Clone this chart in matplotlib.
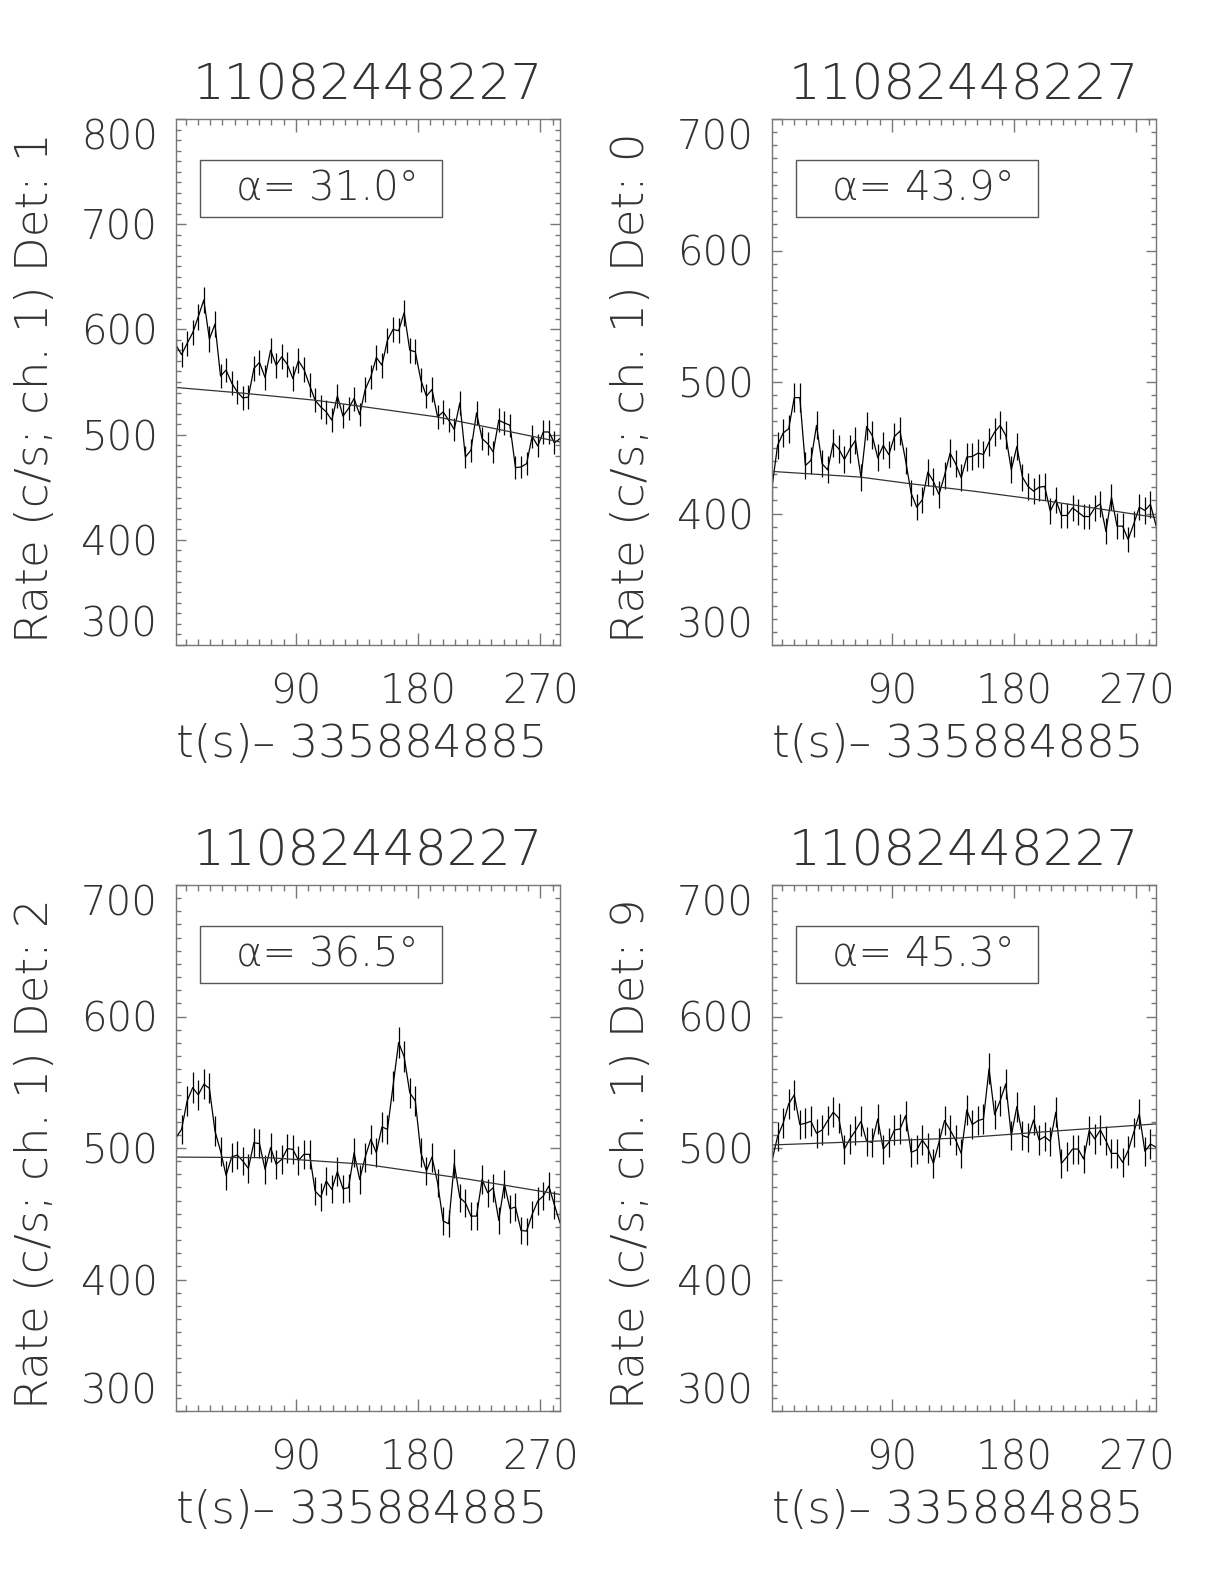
"""
plot.py
Four GBM-style light curves (rate vs time) with background fit curves.
"""
import os
import numpy as np
import matplotlib
matplotlib.use("Agg")
import matplotlib.pyplot as plt
from matplotlib import font_manager as fm
from matplotlib.ft2font import FT2Font
from matplotlib.patches import Rectangle
from matplotlib.ticker import MultipleLocator

# thin, wide-ish font to stand in for the IDL vector font
font_file = None
all_fonts = {os.path.basename(f).lower(): f for f in fm.findSystemFonts()}
for name in ["dejavusans-extralight.ttf", "lato-light.ttf", "notosans-light.ttf",
             "opensans-light.ttf", "roboto-light.ttf"]:
    if name in all_fonts:
        font_file = all_fonts[name]
        break
# size factor so that the digit widths come out about the same
size_k = 1.0 if (font_file and "dejavu" in font_file.lower()) else 1.1


def fprop(size):
    if font_file:
        return fm.FontProperties(fname=font_file, size=size * size_k)
    return fm.FontProperties(family="DejaVu Sans", size=size)


# alpha: plain glyph from the light font if it has one, else mathtext
has_alpha = False
if font_file:
    has_alpha = FT2Font(font_file).get_char_index(ord("\u03b1")) != 0
ALPHA = "\u03b1" if has_alpha else r"$\alpha$"
plt.rcParams["mathtext.fontset"] = "dejavusans"

TITLE = "11082448227"
XLABEL = "t(s)\u2013 335884885"
T0 = 1.8
BIN_S = 4.096

det_labels = ["Det: 1", "Det: 0", "Det: 2", "Det: 9"]
alphas = ["31.0", "43.9", "36.5", "45.3"]
y_ranges = [(300, 800), (300, 700), (300, 700), (300, 700)]

rate_det1 = [
    585, 576, 586.7, 596.8, 612, 628, 590.8, 605, 555.6, 561.3,
    549.2, 540.6, 534.9, 535.6, 562.9, 568.6, 554.3, 580.3, 566, 574,
    566.7, 553.3, 570.2, 561.9, 547, 532.7, 526.3, 521.6, 513.7, 536.8,
    517.5, 524.8, 534.3, 519, 542.9, 554.9, 573.3, 566, 589.8, 600,
    598.7, 615.9, 580.3, 578.7, 551.7, 536.5, 542.9, 516.8, 521.6, 513.7,
    504.8, 530.2, 478.7, 485.1, 520.6, 496.2, 491.4, 483.5, 513.7, 511.1,
    508.9, 468.6, 469.2, 472.4, 498.4, 489.2, 502.5, 502.5, 492.1, 496.2,
]
rate_det0 = [
    420, 451.8, 461.2, 464.5, 488.1, 488.1, 436.5, 440.4, 467, 437.8,
    433.2, 453.6, 449.2, 441.1, 449.2, 455.6, 427.2, 466.2, 459.4, 442.4,
    451.8, 444.7, 458.6, 462.7, 440.4, 415.5, 404.8, 410.4, 431.5, 424.4,
    414.5, 428.9, 445.9, 437.8, 427.2, 442.9, 443.4, 445.9, 444.9, 454.3,
    461.9, 467, 459.4, 433.2, 451, 427.7, 420.6, 417, 420, 420.6,
    401.8, 410.4, 398.5, 398.5, 404.3, 401, 397.7, 397.7, 404.3, 407.4,
    386.5, 412.4, 390.4, 390.4, 380.2, 392.1, 404.8, 402.3, 406.9, 391,
]
rate_det2 = [
    507.9, 514.2, 535.8, 545.9, 540.4, 548.5, 545.4, 512.9, 497.7, 479.2,
    493.1, 494.7, 490.1, 484.5, 504.1, 503.3, 483.8, 500.3, 487.6, 491.4,
    499.5, 499, 490.6, 495.2, 495.2, 467.3, 462.7, 474.9, 468.5, 482,
    469, 469.8, 496.4, 476.1, 493.1, 506.6, 496.4, 516, 514.2, 547.2,
    580.2, 569.3, 542.1, 535.8, 496.4, 482.5, 493.1, 473.6, 444.4, 442.4,
    488.1, 462.2, 458.4, 448.2, 448.2, 476.1, 466, 469.8, 444.9, 472.8,
    453.8, 455.1, 437.3, 436.8, 449.5, 459.6, 463.5, 471.1, 456.6, 443.1,
]
rate_det9 = [
    490.4, 508.6, 518.8, 533.5, 540.4, 517.8, 518.8, 520.3, 511.2, 513.7,
    520.8, 527.2, 522.8, 499.2, 506.9, 513.2, 520.3, 505.1, 504.3, 522.1,
    499.2, 504.3, 513.7, 514.5, 524.6, 496.7, 498.5, 506.1, 500, 488.3,
    504.3, 520.8, 513.7, 506.1, 495.9, 528.9, 517.8, 520.8, 522.1, 560.2,
    525.4, 536, 548.7, 509.4, 531.5, 509.4, 508.1, 521.3, 506.1, 508.6,
    505.1, 527.2, 488.3, 493.4, 499.2, 499.2, 491.6, 513.2, 506.9, 513.7,
    505.6, 495.9, 495.9, 489.1, 498, 511.9, 525.9, 497.5, 503, 500.6,
]

# background fit curves, sampled at a few times
fit_t_det1 = [1.8, 50, 104, 141, 194, 239, 284.4]
fit_v_det1 = [544.8, 539.5, 532.7, 526.3, 516.8, 505, 493]
fit_t_det0 = [1.8, 66.6, 104, 150, 202, 284.4]
fit_v_det0 = [432, 427.7, 422.6, 417, 409.9, 397]
fit_t_det2 = [1.8, 71, 141, 218, 284.4]
fit_v_det2 = [493.1, 492.6, 487.6, 476.1, 464.7]
fit_t_det9 = [1.8, 66.6, 140.2, 214, 284.4]
fit_v_det9 = [502.3, 504.8, 507.6, 513.2, 518.3]

rates = [rate_det1, rate_det0, rate_det2, rate_det9]
fits = [(fit_t_det1, fit_v_det1), (fit_t_det0, fit_v_det0),
        (fit_t_det2, fit_v_det2), (fit_t_det9, fit_v_det9)]

fig = plt.figure(figsize=(12.24, 15.84), dpi=100)

W, H = 1224.0, 1584.0
lefts = [176, 772, 176, 772]
tops = [119, 119, 885, 885]
ax_w, ax_h = 384, 526

TXT = "#333333"
AXC = "#777777"

for i in range(4):
    ax = fig.add_axes([lefts[i] / W, 1 - (tops[i] + ax_h) / H, ax_w / W, ax_h / H])
    rate = np.array(rates[i])
    t = T0 + BIN_S * np.arange(len(rate))
    err = np.sqrt(rate / BIN_S)

    ax.errorbar(t, rate, yerr=err, fmt="none", ecolor="k", elinewidth=0.9, capsize=0)
    ax.plot(t, rate, color="k", lw=0.9)
    ax.plot(fits[i][0], fits[i][1], color="#333333", lw=0.9)

    ax.set_xlim(t[0], t[-1])
    ymin, ymax = y_ranges[i]
    ax.set_ylim(ymin, ymax)

    ax.set_xticks([90, 180, 270])
    ax.xaxis.set_minor_locator(MultipleLocator(9))
    ax.set_yticks(np.arange(ymin, ymax + 1, 100))
    ax.yaxis.set_minor_locator(MultipleLocator(10))

    ax.tick_params(axis="both", which="both", direction="in", top=True, right=True,
                   color=AXC, width=1.0, labelcolor=TXT)
    ax.tick_params(axis="x", which="major", length=9, pad=20)
    ax.tick_params(axis="x", which="minor", length=4)
    ax.tick_params(axis="y", which="major", length=7, pad=13)
    ax.tick_params(axis="y", which="minor", length=3.5)
    for s in ax.spines.values():
        s.set_color(AXC)
        s.set_linewidth(1.0)

    for lab in ax.get_xticklabels() + ax.get_yticklabels():
        lab.set_fontproperties(fprop(29))
    yt = ax.yaxis.get_major_ticks()
    yt[0].label1.set_va("bottom")
    yt[-1].label1.set_va("top")

    ax.set_title(TITLE, fontproperties=fprop(36), color=TXT, pad=14)
    ax.text(-0.367, 0.49, "Rate (c/s; ch. 1) " + det_labels[i], transform=ax.transAxes,
            rotation=90, ha="center", va="center", fontproperties=fprop(32.5), color=TXT)
    ax.text(0.484, -0.19, XLABEL, transform=ax.transAxes,
            ha="center", va="center", fontproperties=fprop(32.5), color=TXT)

    ax.add_patch(Rectangle((0.0625, 0.814), 0.6305, 0.108, transform=ax.transAxes,
                           fill=False, edgecolor="#555555", lw=1.0))
    ax.text(0.395, 0.867, ALPHA + "= " + alphas[i] + "°", transform=ax.transAxes,
            ha="center", va="center", fontproperties=fprop(29), color=TXT)

fig.savefig("out.png", dpi=100)
